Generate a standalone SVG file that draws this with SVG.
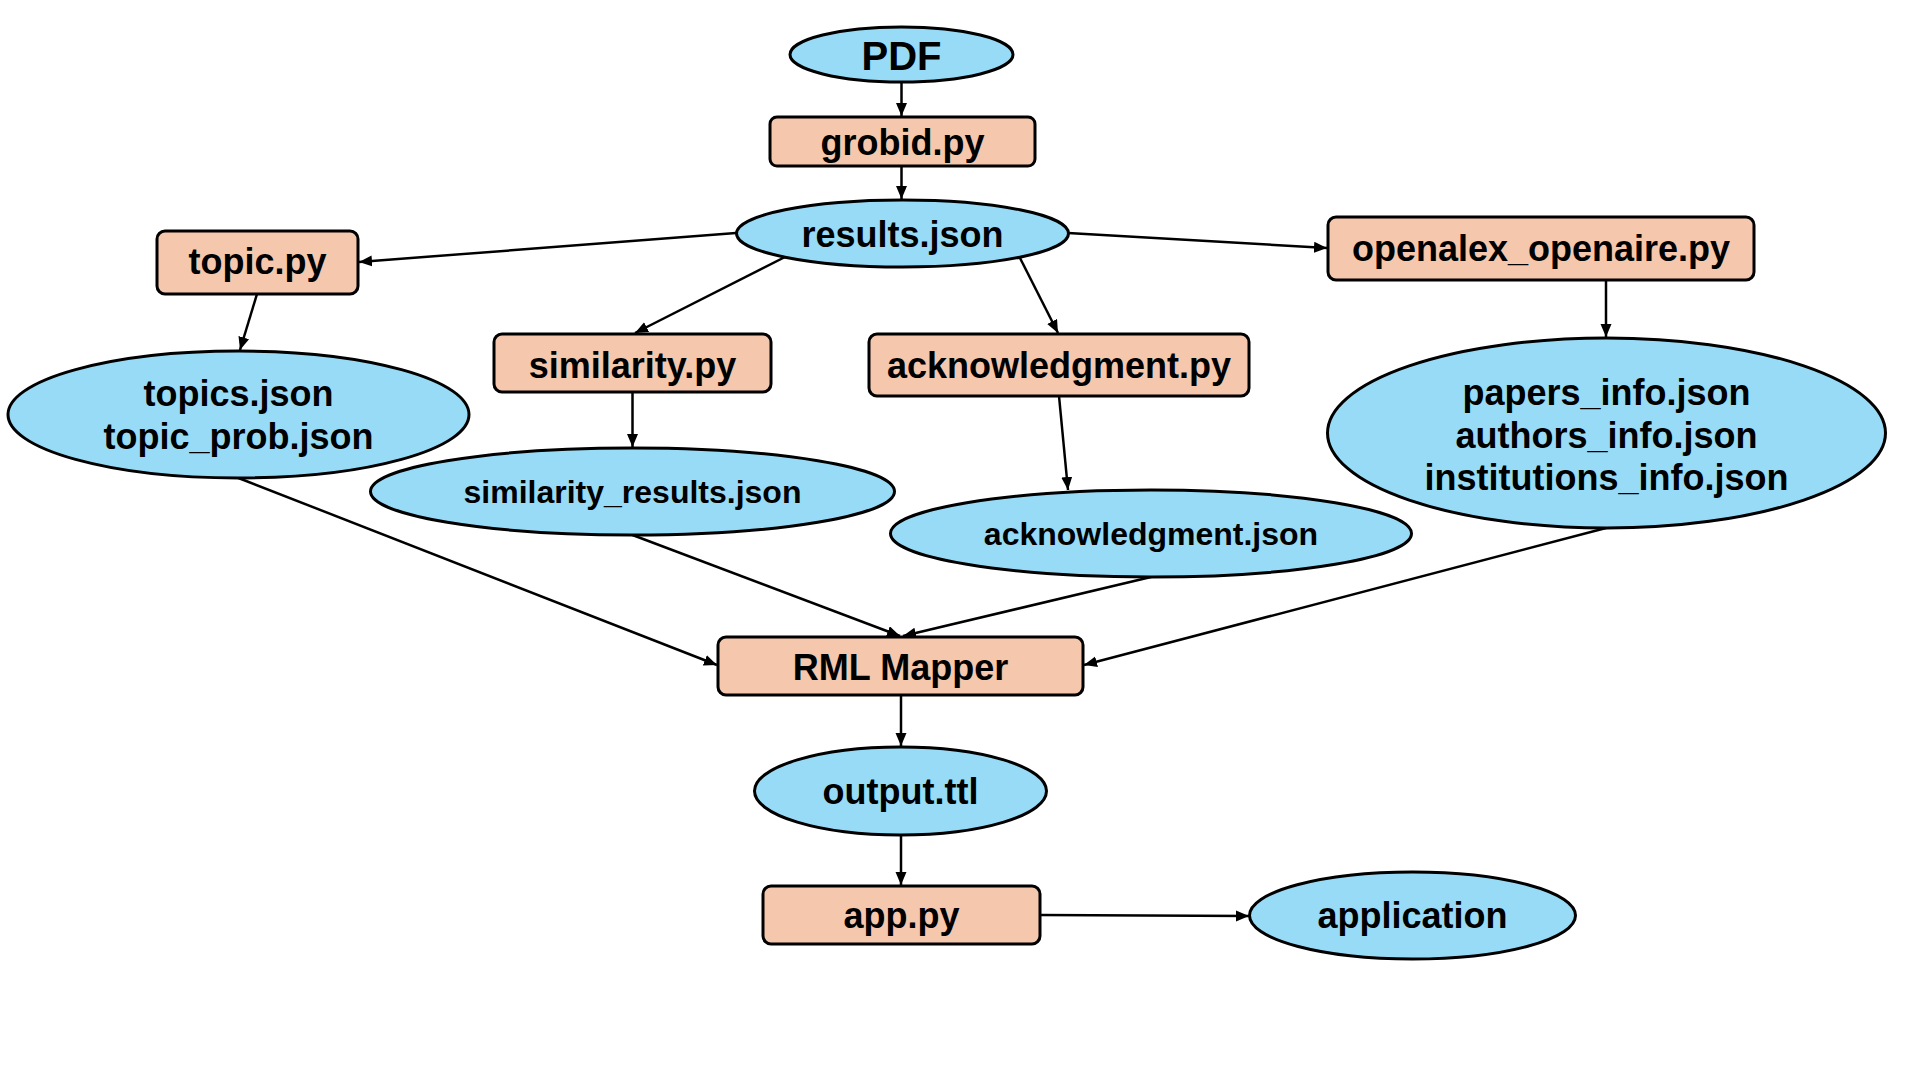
<svg xmlns="http://www.w3.org/2000/svg" width="1920" height="1080" viewBox="0 0 1920 1080">
<style>
.blue{fill:#98dbf7;stroke:#000;stroke-width:3}
.peach{fill:#f5c7ac;stroke:#000;stroke-width:3}
text{font-family:"Liberation Sans",Arial,sans-serif;font-weight:bold;fill:#000;text-anchor:middle}
.t36{font-size:36px}
.t32{font-size:32px}
.t40{font-size:40px}
.edge{stroke:#000;stroke-width:2.5;fill:none;marker-end:url(#arr)}
</style>
<defs>
<marker id="arr" markerUnits="userSpaceOnUse" markerWidth="14" markerHeight="12" refX="13" refY="5.5" orient="auto">
<path d="M0,0 L13,5.5 L0,11 z" fill="#000"/>
</marker>
</defs>
<rect width="1920" height="1080" fill="#fff"/>
<g id="connectors">
<line class="edge" x1="901.5" y1="82" x2="901.5" y2="116"/>
<line class="edge" x1="901.5" y1="166" x2="901.5" y2="199"/>
<line class="edge" x1="736" y1="233" x2="359" y2="262"/>
<line class="edge" x1="785" y1="257" x2="635" y2="333"/>
<line class="edge" x1="1020" y1="258" x2="1058" y2="333"/>
<line class="edge" x1="1068" y1="233" x2="1327" y2="248"/>
<line class="edge" x1="257" y1="294" x2="240" y2="350"/>
<line class="edge" x1="632.5" y1="392" x2="632.5" y2="447"/>
<line class="edge" x1="1059" y1="396" x2="1068" y2="490"/>
<line class="edge" x1="1606" y1="280" x2="1606" y2="337"/>
<line class="edge" x1="238.5" y1="478" x2="717" y2="665"/>
<line class="edge" x1="632.5" y1="535" x2="900" y2="636"/>
<line class="edge" x1="1151" y1="577" x2="903" y2="636"/>
<line class="edge" x1="1606" y1="528" x2="1084" y2="665"/>
<line class="edge" x1="901" y1="695" x2="901" y2="746"/>
<line class="edge" x1="901" y1="835" x2="901" y2="885"/>
<line class="edge" x1="1040" y1="915" x2="1249" y2="916"/>
</g>
<g id="pdf"><ellipse class="blue" cx="901.5" cy="54.5" rx="111.5" ry="27.5"/><text class="t40" x="901.5" y="69.5">PDF</text></g>
<g id="grobid"><rect class="peach" x="770" y="117" width="265" height="49" rx="7"/><text class="t36" x="902.5" y="154.5">grobid.py</text></g>
<g id="results"><ellipse class="blue" cx="902.5" cy="233.5" rx="166" ry="33.5"/><text class="t36" x="902.5" y="247">results.json</text></g>
<g id="topic"><rect class="peach" x="157" y="231" width="201" height="63" rx="8"/><text class="t36" x="257.5" y="274">topic.py</text></g>
<g id="openalex"><rect class="peach" x="1328" y="217" width="426" height="63" rx="8"/><text class="t36" x="1541" y="261">openalex_openaire.py</text></g>
<g id="similarity"><rect class="peach" x="494" y="334" width="277" height="58" rx="8"/><text class="t36" x="632.5" y="378">similarity.py</text></g>
<g id="acknowledgment"><rect class="peach" x="869" y="334" width="380" height="62" rx="8"/><text class="t36" x="1059" y="378">acknowledgment.py</text></g>
<g id="topics"><ellipse class="blue" cx="238.5" cy="414.5" rx="230.5" ry="63.5"/><text class="t36" x="238.5" y="406">topics.json</text><text class="t36" x="238.5" y="449">topic_prob.json</text></g>
<g id="similarity_results"><ellipse class="blue" cx="632.5" cy="491.5" rx="262" ry="43.5"/><text class="t32" x="632.5" y="503">similarity_results.json</text></g>
<g id="acknowledgment_json"><ellipse class="blue" cx="1151" cy="533.5" rx="260.5" ry="43.5"/><text class="t32" x="1151" y="545">acknowledgment.json</text></g>
<g id="info"><ellipse class="blue" cx="1606.5" cy="433" rx="279" ry="95"/><text class="t36" x="1606.5" y="404.5">papers_info.json</text><text class="t36" x="1606.5" y="447.5">authors_info.json</text><text class="t36" x="1606.5" y="490">institutions_info.json</text></g>
<g id="rml"><rect class="peach" x="718" y="637" width="365" height="58" rx="8"/><text class="t36" x="900.5" y="679.5">RML Mapper</text></g>
<g id="output"><ellipse class="blue" cx="900.5" cy="791" rx="146" ry="44"/><text class="t36" x="900.5" y="804">output.ttl</text></g>
<g id="app"><rect class="peach" x="763" y="886" width="277" height="58" rx="8"/><text class="t36" x="901.5" y="928">app.py</text></g>
<g id="application"><ellipse class="blue" cx="1412.5" cy="915.5" rx="163" ry="43.5"/><text class="t36" x="1412.5" y="928">application</text></g>
</svg>
